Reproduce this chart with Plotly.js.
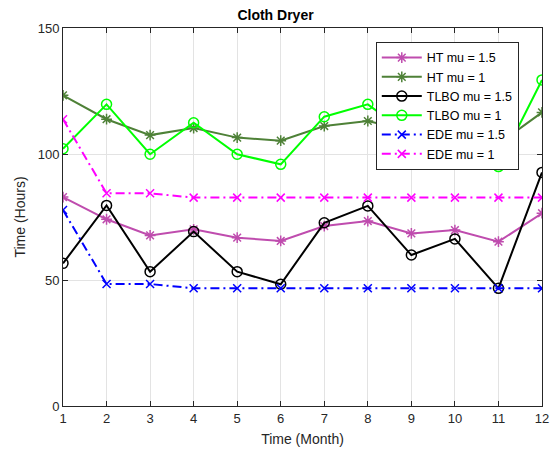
<!DOCTYPE html>
<html>
<head>
<meta charset="utf-8">
<script src="https://cdn.plot.ly/plotly-3.0.1.min.js"></script>
<style>html,body{margin:0;padding:0;background:#fff;}#chart{width:551px;height:457px;}</style>
</head>
<body>
<div id="chart"></div>
<script>
const months = [1,2,3,4,5,6,7,8,9,10,11,12];
const htMu15   = [82.9,74.1,67.7,70.1,66.8,65.5,71.4,73.4,68.5,69.8,65.2,76.5];
const htMu1    = [123.3,113.8,107.5,110.3,106.5,105.3,111.1,113.1,109,110,104,116.5];
const tlboMu15 = [56.6,79.6,53.3,69.2,53.3,48.3,72.7,79.4,59.9,66.3,46.7,92.7];
const tlboMu1  = [102.1,119.7,99.9,112.4,99.9,95.9,114.8,119.7,107,115,95,129.4];
const edeMu15  = [77.8,48.4,48.4,46.7,46.7,46.7,46.7,46.7,46.7,46.7,46.7,46.7];
const edeMu1   = [113.8,84.4,84.4,82.7,82.7,82.7,82.7,82.7,82.7,82.7,82.7,82.7];
const seriesNames = ['HT mu = 1.5','HT mu = 1','TLBO mu = 1.5','TLBO mu = 1','EDE mu = 1.5','EDE mu = 1'];

function tr(name, y, color, symbol, dash, msize) {
  return {
    x: months, y: y, name: name, type: 'scatter', mode: 'lines+markers',
    line: {color: color, width: 2, dash: dash},
    marker: {symbol: symbol, size: msize, color: color, line: {color: color, width: 1.5}}
  };
}
const dashDot = '9px,4px,2px,4px';
const data = [
  tr(seriesNames[0], htMu15, '#BF4CAE', 'asterisk-open', 'solid', 9),
  tr(seriesNames[1], htMu1, '#4E8137', 'asterisk-open', 'solid', 9),
  tr(seriesNames[2], tlboMu15, '#000000', 'circle-open', 'solid', 10),
  tr(seriesNames[3], tlboMu1, '#00FF00', 'circle-open', 'solid', 10),
  tr(seriesNames[4], edeMu15, '#0000FF', 'x-thin-open', dashDot, 8),
  tr(seriesNames[5], edeMu1, '#FF00FF', 'x-thin-open', dashDot, 8)
];
const axisCommon = {
  showline: true, mirror: 'ticks', linecolor: '#262626', linewidth: 1,
  ticks: 'inside', ticklen: 5, tickcolor: '#262626',
  showgrid: true, gridcolor: '#E3E3E3', gridwidth: 1, zeroline: false,
  tickfont: {family: 'Liberation Sans, Arial, sans-serif', size: 13, color: '#262626'}
};
const layout = {
  width: 551, height: 457,
  margin: {l: 63, r: 9, t: 28, b: 51},
  paper_bgcolor: '#fff', plot_bgcolor: '#fff',
  font: {family: 'Liberation Sans, Arial, sans-serif', color: '#262626'},
  title: {text: '<b>Cloth Dryer</b>', x: 0.5, xanchor: 'center', y: 0.968, yanchor: 'middle',
          font: {size: 14, color: '#000'}},
  xaxis: Object.assign({}, axisCommon, {
    range: [1, 12], tickvals: months, ticktext: months.map(String),
    title: {text: 'Time (Month)', font: {size: 14, color: '#262626'}, standoff: 9}
  }),
  yaxis: Object.assign({}, axisCommon, {
    range: [0, 150], tickvals: [0, 50, 100, 150],
    title: {text: 'Time (Hours)', font: {size: 14, color: '#262626'}, standoff: 8}
  }),
  legend: {
    x: 0.653, y: 0.963, xanchor: 'left', yanchor: 'top',
    bgcolor: '#fff', bordercolor: '#262626', borderwidth: 1,
    font: {size: 12.5, color: '#000'}, tracegroupgap: 0, itemwidth: 40
  },
  showlegend: true
};
Plotly.newPlot('chart', data, layout, {displayModeBar: false, staticPlot: true});
</script>
</body>
</html>
